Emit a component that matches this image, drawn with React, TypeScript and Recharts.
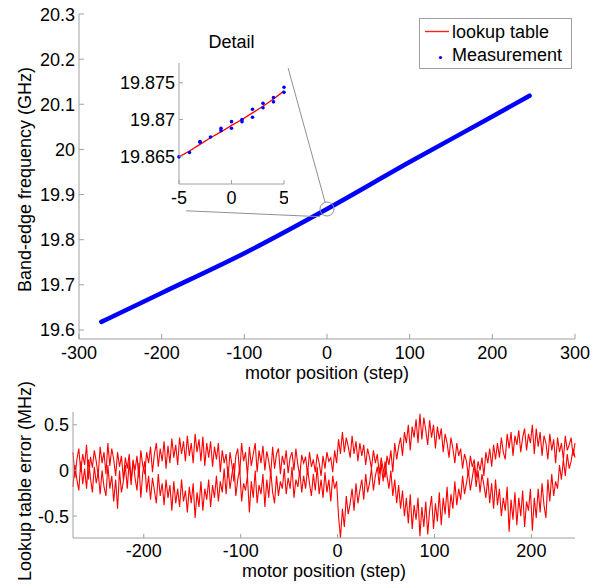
import {
  LineChart,
  ComposedChart,
  Line,
  Scatter,
  XAxis,
  YAxis,
  ReferenceDot,
  ReferenceLine,
} from 'recharts';

const FONT = '"Liberation Sans", Arial, Helvetica, sans-serif';
const AXIS_GRAY = '#a0a0a0';
const FS = 18;

// top panel: band-edge frequency vs motor position
const motorPos = [-273, -200, -100, 0, 100, 200, 245];
const measuredGHz = [19.618, 19.682, 19.77, 19.868, 19.972, 20.073, 20.119];
const lookupGHz = [19.618, 19.682, 19.771, 19.868, 19.972, 20.072, 20.119];
const posTicks = [-300, -200, -100, 0, 100, 200, 300];
const freqTicks = [19.6, 19.7, 19.8, 19.9, 20, 20.1, 20.2, 20.3];

// detail inset around position 0
const detailPos = [-5, -4, -3, -2, -1, 0, 1, 2, 3, 4, 5];
const detailLookup = [19.8649, 19.8657, 19.8666, 19.8675, 19.8683, 19.8692, 19.87, 19.8709, 19.8718, 19.8728, 19.8739];
const detailMeasPos = [-5, -4, -3, -3, -2, -1, -1, 0, 0, 1, 1, 2, 2, 3, 3, 4, 4, 5, 5];
const detailMeasGHz = [
  19.8649, 19.8655, 19.867, 19.8669, 19.8676, 19.8688, 19.8685, 19.8697, 19.8688, 19.87,
  19.8697, 19.8714, 19.8703, 19.8722, 19.8716, 19.873, 19.8724, 19.8744, 19.8737,
];
const detailXTicks = [-5, 0, 5];
const detailYTicks = [19.865, 19.87, 19.875];

// bottom panel: lookup table error (MHz), two sweep directions, every 2 steps from -273
const errStart = -273;
const errStep = 2;
const errSweepA = [
  0.2, -0.08, 0.12, 0.24, -0.02, 0.18, 0.06, 0.28, -0.1, 0.15,
  0.03, 0.22, 0.1, -0.06, 0.26, 0.08, 0.2, -0.04, 0.3, 0.05,
  0.24, 0.12, -0.06, 0.2, 0.04, 0.16, -0.1, 0.14, 0.02, 0.18,
  -0.12, 0.1, 0.0, 0.16, -0.08, 0.22, 0.05, -0.04, 0.2, 0.08,
  0.26, -0.02, 0.18, 0.3, 0.04, 0.24, 0.1, 0.32, 0.02, 0.27,
  0.08, 0.35, 0.14, 0.28, 0.06, 0.36, 0.18, 0.32, 0.1, 0.38,
  0.16, 0.3, 0.08, 0.4, 0.2, 0.34, 0.1, 0.37, 0.05, 0.3,
  0.14, 0.32, 0.04, 0.26, 0.12, 0.3, -0.02, 0.22, 0.08, 0.18,
  -0.08, 0.2, 0.06, -0.12, 0.16, 0.24, -0.04, 0.3, 0.1, 0.2,
  -0.06, 0.26, 0.05, 0.18, 0.3, -0.02, 0.22, 0.08, 0.27, 0.0,
  0.21, 0.1, -0.05, 0.26, 0.02, 0.18, 0.24, -0.04, 0.16, 0.06,
  0.22, -0.03, 0.14, 0.2, 0.0, 0.24, 0.06, -0.06, 0.17, 0.08,
  0.15, -0.05, 0.2, 0.04, 0.12, -0.02, 0.18, 0.08, -0.06, 0.16,
  0.02, 0.2, 0.1, 0.14, -0.02, 0.22, 0.08, 0.34, 0.18, 0.42,
  0.2, 0.36, 0.26, 0.14, 0.38, 0.18, 0.32, 0.1, 0.3, 0.16,
  0.28, 0.06, 0.24, 0.14, 0.02, 0.22, 0.08, 0.18, -0.04, 0.14,
  0.02, -0.08, 0.16, 0.06, 0.22, -0.02, 0.3, 0.12, 0.26, 0.36,
  0.16, 0.42, 0.3, 0.5, 0.22, 0.48, 0.36, 0.56, 0.3, 0.62,
  0.34, 0.58, 0.44, 0.28, 0.55, 0.36, 0.5, 0.24, 0.48, 0.34,
  0.46, 0.2, 0.4, 0.3, 0.14, 0.36, 0.24, 0.08, 0.3, 0.16,
  0.24, 0.02, 0.18, 0.1, -0.06, 0.16, 0.04, 0.12, -0.08, 0.1,
  0.0, 0.14, -0.06, 0.2, 0.08, 0.24, 0.04, 0.28, 0.12, 0.3,
  0.14, 0.36, 0.2, 0.12, 0.4, 0.24, 0.42, 0.16, 0.38, 0.28,
  0.44, 0.2, 0.36, 0.46, 0.22, 0.4, 0.3, 0.5, 0.18, 0.46,
  0.26, 0.42, 0.16, 0.38, 0.3, 0.12, 0.4, 0.22, 0.34, 0.08,
  0.36, 0.2, 0.3, 0.12, 0.38, 0.22, 0.28, 0.36, 0.16, 0.3,
];
const errSweepB = [
  -0.18, 0.06, -0.1, -0.22, 0.1, -0.15, 0.02, -0.2, 0.12, -0.08,
  -0.24, 0.04, -0.14, -0.02, -0.26, 0.0, -0.18, -0.28, 0.06, -0.2,
  -0.06, -0.34, -0.1, -0.42, 0.0, -0.24, -0.12, 0.06, -0.2, 0.1,
  -0.16, 0.12, -0.08, -0.22, 0.08, -0.3, -0.02, 0.1, -0.24, -0.06,
  -0.32, -0.08, -0.22, -0.36, -0.04, -0.28, -0.14, -0.38, -0.1, -0.3,
  -0.16, -0.44, -0.12, -0.36, -0.2, -0.4, -0.1, -0.34, -0.22, -0.46,
  -0.18, -0.36, -0.14, -0.52, -0.24, -0.4, -0.12, -0.44, -0.2, -0.32,
  -0.1, -0.4, -0.16, -0.3, -0.06, -0.34, -0.12, -0.24, 0.02, -0.26,
  0.04, -0.2, -0.04, 0.08, -0.28, -0.1, 0.02, -0.34, -0.14, -0.22,
  -0.06, -0.46, -0.12, -0.3, 0.0, -0.36, -0.16, -0.26, -0.04, -0.4,
  -0.1, -0.3, 0.0, -0.24, -0.36, -0.06, -0.28, -0.12, -0.2, 0.02,
  -0.26, -0.08, -0.2, 0.04, -0.3, -0.1, -0.18, 0.0, -0.24, -0.06,
  -0.2, 0.02, -0.14, -0.28, -0.04, -0.22, 0.04, -0.26, -0.1, -0.3,
  -0.02, -0.24, -0.1, -0.34, -0.06, -0.2, -0.12, -0.5, -0.74, -0.42,
  -0.62, -0.28, -0.48, -0.36, -0.2, -0.44, -0.14, -0.36, -0.22, -0.1,
  -0.32, -0.04, -0.24, -0.14, 0.02, -0.22, -0.06, 0.04, -0.16, 0.08,
  -0.12, 0.1, -0.06, -0.2, 0.0, -0.28, -0.1, -0.36, -0.16, -0.42,
  -0.22, -0.5, -0.3, -0.58, -0.26, -0.64, -0.38, -0.54, -0.3, -0.72,
  -0.4, -0.62, -0.34, -0.7, -0.44, -0.28, -0.64, -0.36, -0.56, -0.24,
  -0.6, -0.3, -0.48, -0.18, -0.52, -0.26, -0.42, -0.12, -0.38, -0.2,
  -0.32, -0.06, -0.26, -0.14, 0.0, -0.22, -0.08, 0.06, -0.18, 0.0,
  -0.24, -0.04, -0.16, -0.3, -0.08, -0.36, -0.14, -0.42, -0.1, -0.38,
  -0.2, -0.5, -0.3, -0.44, -0.18, -0.67, -0.32, -0.54, -0.24, -0.6,
  -0.3, -0.5, -0.22, -0.62, -0.34, -0.44, -0.2, -0.66, -0.3, -0.52,
  -0.2, -0.46, -0.14, -0.38, -0.52, -0.1, -0.34, -0.04, -0.28, -0.12,
  -0.2, 0.06, -0.1, 0.12, -0.06, 0.18, 0.02, 0.1, 0.24, 0.14,
];
const errPosTicks = [-200, -100, 0, 100, 200];
const errTicks = [-0.5, 0, 0.5];

const mainData = motorPos.map((p, i) => ({ pos: p, measured: measuredGHz[i], lookup: lookupGHz[i] }));
const detailLineData = detailPos.map((p, i) => ({ pos: p, lookup: detailLookup[i] }));
const detailMeasData = detailMeasPos.map((p, i) => ({ pos: p, measured: detailMeasGHz[i] }));
const errData = errSweepA.map((a, i) => ({ pos: errStart + i * errStep, a, b: errSweepB[i] }));

const fmt = (v: number) => String(parseFloat(v.toFixed(4)));

// MATLAB-style box: ticks point inward, labels only on bottom/left
function BoxTick(props: any) {
  const { x = 0, y = 0, payload, side, len = 5, below = 20 } = props;
  const label = payload ? fmt(payload.value) : '';
  const txt = { fontSize: FS, fontFamily: FONT, fill: '#000' };
  if (side === 'bottom') {
    return (
      <g>
        <line x1={x} x2={x} y1={y} y2={y - len} stroke={AXIS_GRAY} />
        <text x={x} y={y + below} textAnchor="middle" {...txt}>{label}</text>
      </g>
    );
  }
  if (side === 'top') {
    return <line x1={x} x2={x} y1={y} y2={y + len} stroke={AXIS_GRAY} />;
  }
  if (side === 'right') {
    return <line x1={x} x2={x - len} y1={y} y2={y} stroke={AXIS_GRAY} />;
  }
  return (
    <g>
      <line x1={x} x2={x + len} y1={y} y2={y} stroke={AXIS_GRAY} />
      <text x={x - 4} y={y + 6.5} textAnchor="end" {...txt}>{label}</text>
    </g>
  );
}

// rotated y-axis title, centred on the plot height
function RotLabel(props: any) {
  const { viewBox, value, shift = 0 } = props;
  if (!viewBox) return null;
  const cx = viewBox.x + 25;
  const cy = viewBox.y + viewBox.height / 2 + shift;
  return (
    <text
      x={cx}
      y={cy}
      transform={`rotate(-90 ${cx} ${cy})`}
      textAnchor="middle"
      dominantBaseline="central"
      fontSize={FS}
      fontFamily={FONT}
      fill="#000"
    >
      {value}
    </text>
  );
}

const axisLine = { stroke: AXIS_GRAY };
const labelStyle = { fontSize: FS, fontFamily: FONT, fill: '#000', textAnchor: 'middle' as const };

function MainPanel() {
  return (
    <LineChart width={605} height={385} data={mainData} margin={{ top: 14, right: 30, bottom: 0, left: 0 }}>
      <XAxis
        dataKey="pos"
        type="number"
        domain={[-300, 300]}
        ticks={posTicks}
        interval={0}
        height={46}
        tickSize={0}
        tickMargin={0}
        axisLine={axisLine}
        tick={(p: any) => <BoxTick {...p} side="bottom" />}
        label={{ value: 'motor position (step)', position: 'insideBottom', offset: 6, style: labelStyle }}
      />
      <XAxis
        xAxisId="top"
        dataKey="pos"
        type="number"
        orientation="top"
        domain={[-300, 300]}
        ticks={posTicks}
        interval={0}
        height={0}
        tickSize={0}
        tickMargin={0}
        axisLine={axisLine}
        tick={(p: any) => <BoxTick {...p} side="top" />}
      />
      <YAxis
        type="number"
        domain={[19.58, 20.3]}
        ticks={freqTicks}
        interval={0}
        width={79}
        tickSize={0}
        tickMargin={0}
        axisLine={axisLine}
        tick={(p: any) => <BoxTick {...p} side="left" />}
        label={<RotLabel value="Band-edge frequency (GHz)" shift={3} />}
      />
      <YAxis
        yAxisId="right"
        type="number"
        orientation="right"
        domain={[19.58, 20.3]}
        ticks={freqTicks}
        interval={0}
        width={0}
        tickSize={0}
        tickMargin={0}
        axisLine={axisLine}
        tick={(p: any) => <BoxTick {...p} side="right" />}
      />
      <Line type="monotone" dataKey="lookup" stroke="#ff0000" strokeWidth={1} dot={false} isAnimationActive={false} />
      <Line
        type="monotone"
        dataKey="measured"
        stroke="#0000ff"
        strokeWidth={4.5}
        strokeLinecap="round"
        dot={false}
        isAnimationActive={false}
      />
      <ReferenceDot x={0} y={19.868} r={7} fill="none" stroke="#909090" strokeWidth={1} />
      <ReferenceLine segment={[{ x: -47, y: 20.18 }, { x: -2, y: 19.881 }]} stroke="#909090" strokeWidth={1} />
      <ReferenceLine segment={[{ x: -170.5, y: 19.864 }, { x: -8.5, y: 19.851 }]} stroke="#909090" strokeWidth={1} />
    </LineChart>
  );
}

function DetailPanel() {
  return (
    <ComposedChart width={179} height={180} margin={{ top: 33, right: 4, bottom: 0, left: 0 }}>
      <XAxis
        dataKey="pos"
        type="number"
        domain={[-5, 5]}
        ticks={detailXTicks}
        interval={0}
        height={26}
        tickSize={0}
        tickMargin={0}
        axisLine={axisLine}
        tick={(p: any) => <BoxTick {...p} side="bottom" len={4} />}
      />
      <XAxis
        xAxisId="top"
        dataKey="pos"
        type="number"
        orientation="top"
        domain={[-5, 5]}
        ticks={detailXTicks}
        interval={0}
        height={0}
        tickSize={0}
        tickMargin={0}
        axisLine={axisLine}
        tick={(p: any) => <BoxTick {...p} side="top" len={4} />}
      />
      <YAxis
        type="number"
        domain={[19.8612, 19.8777]}
        ticks={detailYTicks}
        interval={0}
        width={70}
        tickSize={0}
        tickMargin={0}
        axisLine={axisLine}
        tick={(p: any) => <BoxTick {...p} side="left" len={4} />}
      />
      <YAxis
        yAxisId="right"
        type="number"
        orientation="right"
        domain={[19.8612, 19.8777]}
        ticks={detailYTicks}
        interval={0}
        width={0}
        tickSize={0}
        tickMargin={0}
        axisLine={axisLine}
        tick={(p: any) => <BoxTick {...p} side="right" len={4} />}
      />
      <Line data={detailLineData} dataKey="lookup" stroke="#ff0000" strokeWidth={1.3} dot={false} isAnimationActive={false} />
      <Scatter
        data={detailMeasData}
        dataKey="measured"
        fill="#0000ff"
        isAnimationActive={false}
        shape={(p: any) => <circle cx={p.cx} cy={p.cy} r={1.8} fill="#0000ff" />}
      />
    </ComposedChart>
  );
}

function ErrorPanel() {
  return (
    <LineChart width={605} height={216} data={errData} margin={{ top: 42, right: 30, bottom: 0, left: 0 }}>
      <XAxis
        dataKey="pos"
        type="number"
        domain={[-273, 245]}
        ticks={errPosTicks}
        interval={0}
        height={48}
        tickSize={0}
        tickMargin={0}
        axisLine={axisLine}
        tick={(p: any) => <BoxTick {...p} side="bottom" len={4} below={19} />}
        label={{ value: 'motor position (step)', position: 'insideBottom', offset: 9, style: labelStyle }}
      />
      <XAxis
        xAxisId="top"
        dataKey="pos"
        type="number"
        orientation="top"
        domain={[-273, 245]}
        ticks={errPosTicks}
        interval={0}
        height={0}
        tickSize={0}
        tickMargin={0}
        axisLine={axisLine}
        tick={(p: any) => <BoxTick {...p} side="top" len={4} />}
      />
      <YAxis
        type="number"
        domain={[-0.74, 0.64]}
        ticks={errTicks}
        interval={0}
        width={73}
        tickSize={0}
        tickMargin={0}
        axisLine={axisLine}
        tick={(p: any) => <BoxTick {...p} side="left" len={4} />}
        label={<RotLabel value="Lookup table error (MHz)" shift={6} />}
      />
      <YAxis
        yAxisId="right"
        type="number"
        orientation="right"
        domain={[-0.74, 0.64]}
        ticks={errTicks}
        interval={0}
        width={0}
        tickSize={0}
        tickMargin={0}
        axisLine={axisLine}
        tick={(p: any) => <BoxTick {...p} side="right" len={4} />}
      />
      <Line dataKey="a" stroke="#ff0000" strokeWidth={1.1} dot={false} isAnimationActive={false} />
      <Line dataKey="b" stroke="#ff0000" strokeWidth={1.1} dot={false} isAnimationActive={false} />
    </LineChart>
  );
}

export default function App() {
  return (
    <div style={{ position: 'absolute', left: 0, top: 0, width: 605, height: 586, background: '#fff', fontFamily: FONT }}>
      <div style={{ position: 'absolute', left: 0, top: 0 }}>
        <MainPanel />
      </div>
      <div style={{ position: 'absolute', left: 0, top: 370 }}>
        <ErrorPanel />
      </div>
      <div style={{ position: 'absolute', left: 109, top: 30 }}>
        <DetailPanel />
      </div>
      <div style={{ position: 'absolute', left: 179, top: 32, width: 105, textAlign: 'center', fontSize: FS, lineHeight: '20px' }}>
        Detail
      </div>
      <div
        style={{
          position: 'absolute',
          left: 419,
          top: 18,
          width: 151,
          height: 49,
          border: `1px solid ${AXIS_GRAY}`,
          background: '#fff',
          fontSize: FS,
        }}
      >
        <svg style={{ position: 'absolute', left: 0, top: 0 }} width={32} height={49}>
          <line x1={5} x2={29} y1={12.5} y2={12.5} stroke="#ff2020" strokeWidth={1.4} />
          <circle cx={20.5} cy={38.5} r={1.6} fill="#0000ff" />
        </svg>
        <div style={{ position: 'absolute', left: 32, top: 2, lineHeight: '22px', whiteSpace: 'nowrap' }}>lookup table</div>
        <div style={{ position: 'absolute', left: 32, top: 25, lineHeight: '22px', whiteSpace: 'nowrap' }}>Measurement</div>
      </div>
    </div>
  );
}
